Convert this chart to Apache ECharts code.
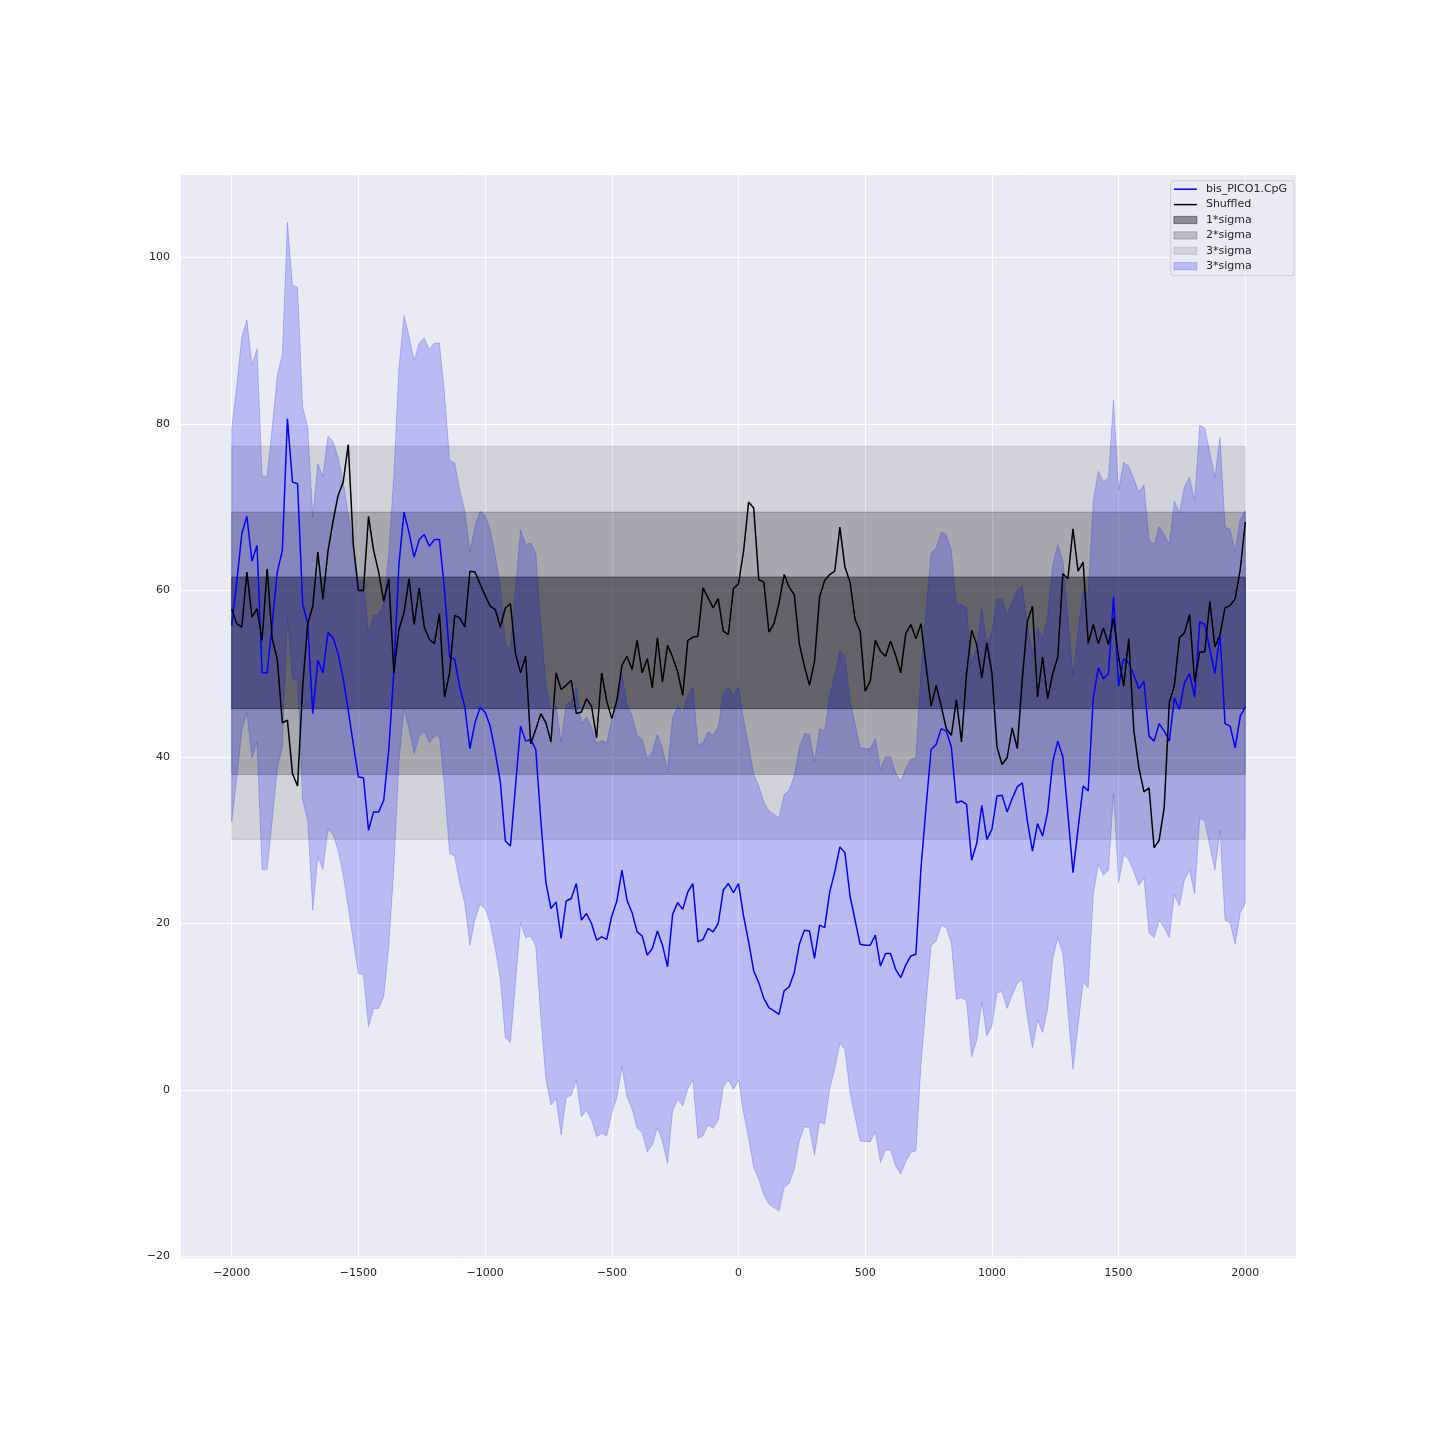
<!DOCTYPE html>
<html>
<head>
<meta charset="utf-8">
<script src="https://cdn.jsdelivr.net/npm/echarts@6/dist/echarts.min.js"></script>
<style>html,body{margin:0;padding:0;background:#fff}#c{width:1440px;height:1440px}</style>
</head>
<body>
<div id="c"></div>
<script>
// ---- data ----
const positions = Array.from({length: 201}, (_, i) => -2000 + 20 * i);
const bluePico = [
55.8,61.0,66.8,68.9,63.5,65.4,50.1,50.1,56.0,62.2,
64.8,80.6,73.0,72.8,58.4,56.0,45.2,51.6,50.1,54.9,
54.3,52.4,49.4,45.6,41.5,37.6,37.5,31.2,33.4,33.4,
34.8,40.9,50.3,63.1,69.4,66.9,64.0,66.1,66.7,65.3,
66.1,66.1,60.0,52.0,51.7,48.4,46.0,41.0,44.1,45.9,
45.4,43.7,40.6,37.0,29.9,29.3,36.5,43.7,41.9,42.1,
40.9,32.3,24.9,21.8,22.6,18.2,22.7,23.0,24.8,20.4,
21.2,20.0,18.0,18.4,18.1,20.9,22.7,26.4,22.8,21.3,
19.0,18.5,16.2,17.0,19.1,17.4,14.8,21.1,22.5,21.7,
23.8,24.8,17.8,18.1,19.4,19.0,20.0,24.0,24.8,23.7,
24.8,20.9,17.8,14.3,12.9,11.0,9.9,9.5,9.1,11.9,
12.4,14.1,17.5,19.2,19.1,15.8,19.8,19.5,23.8,26.2,
29.2,28.5,23.3,20.4,17.5,17.4,17.4,18.6,14.9,16.4,
16.4,14.5,13.5,15.0,16.1,16.3,26.6,33.9,40.9,41.5,
43.4,43.1,41.2,34.5,34.7,34.3,27.6,29.6,34.2,30.1,
31.3,35.3,35.4,33.4,35.0,36.4,36.9,32.3,28.7,32.0,
30.5,33.4,39.4,41.9,40.0,33.1,26.1,31.4,36.5,35.9,
47.1,50.7,49.4,50.0,59.2,48.5,51.8,51.3,49.8,48.2,
49.1,42.5,41.9,44.0,43.1,41.9,47.1,45.7,48.9,50.0,
47.2,56.2,55.9,52.9,50.0,54.8,44.0,43.7,41.1,44.9,
46.0
];
const shuffled = [
57.8,56.0,55.6,62.2,56.8,57.8,54.0,62.6,54.2,51.7,
44.1,44.4,38.0,36.5,48.4,56.0,58.1,64.6,58.9,64.7,
68.3,71.4,73.0,77.5,65.5,60.0,60.0,68.9,64.8,62.2,
58.7,61.4,50.1,55.3,57.3,61.4,55.9,60.3,55.6,54.1,
53.6,57.2,47.2,50.1,57.0,56.7,55.6,62.3,62.2,60.8,
59.4,58.1,57.7,55.6,57.9,58.4,52.4,50.1,52.1,41.6,
43.3,45.2,44.1,41.8,50.1,48.1,48.6,49.2,45.2,45.4,
47.0,46.1,42.3,50.1,46.7,44.6,46.8,51.0,52.1,50.5,
54.0,50.1,51.8,48.3,54.3,49.0,53.4,52.0,50.2,47.4,
54.0,54.4,54.5,60.3,59.1,57.9,59.0,55.1,54.7,60.2,
60.8,64.7,70.6,69.9,61.3,61.0,55.0,56.0,58.5,61.9,
60.4,59.5,53.6,50.9,48.6,51.5,59.2,61.2,61.9,62.3,
67.6,62.8,61.0,56.5,55.1,47.9,49.1,54.0,52.7,52.1,
53.9,52.2,50.1,54.8,55.9,54.2,56.0,51.0,46.1,48.6,
46.1,43.4,42.6,46.9,41.8,50.1,55.2,53.5,49.5,53.7,
50.1,41.2,39.1,39.9,43.5,41.0,49.4,56.3,58.1,47.2,
52.0,47.0,50.0,52.0,62.0,61.4,67.4,62.3,63.4,53.6,
55.9,53.6,55.5,53.5,56.7,52.0,48.5,54.2,43.2,38.7,
35.8,36.3,29.1,30.0,33.9,46.5,48.6,54.3,54.9,57.1,
49.0,52.6,52.6,58.7,53.2,54.7,57.9,58.2,59.0,62.5,
68.2
];
const blueBandHalf = 23.6;               // half width of the blue 3*sigma band
const sigmaNames = ['1*sigma', '2*sigma', '3*sigma'];
const sigmaLow   = [45.8, 37.9, 30.1];
const sigmaHigh  = [61.6, 69.4, 77.3];
const sigmaFrom = -2000, sigmaTo = 2000;
const xTickValues = [-2000, -1500, -1000, -500, 0, 500, 1000, 1500, 2000];
const xTickLabels = ['\u22122000', '\u22121500', '\u22121000', '\u2212500', '0', '500', '1000', '1500', '2000'];
const yTickValues = [-20, 0, 20, 40, 60, 80, 100];
const yTickLabels = ['\u221220', '0', '20', '40', '60', '80', '100'];

// ---- style ----
const FONT = 'DejaVu Sans';
const TXT = '#262626';
const sigmaColors = ['rgba(0,0,0,0.4)', 'rgba(0,0,0,0.2)', 'rgba(0,0,0,0.1)'];
const blueFill = 'rgba(0,0,255,0.2)';
const lineIcon = 'path://M0,0 L23,0 L23,1.5 L0,1.5 Z';

const pair = ys => positions.map((x, i) => [x, ys[i]]);

const series = [];
series.push({
  type: 'line', data: [], z: 0, silent: true,
  markLine: {
    silent: true, z: 0, zlevel: 0, symbol: ['none', 'none'], label: {show: false},
    lineStyle: {color: '#ffffff', width: 1, type: 'solid', opacity: 1},
    emphasis: {disabled: true},
    data: xTickValues.map(v => ({xAxis: v}))
  }
});
sigmaNames.forEach((n, k) => {
  series.push({
    name: n, type: 'line', data: [], z: 1, color: sigmaColors[k],
    markArea: {
      silent: true, z: 1,
      itemStyle: {color: sigmaColors[k], borderColor: sigmaColors[k], borderWidth: 1},
      emphasis: {disabled: true},
      data: [[{xAxis: sigmaFrom, yAxis: sigmaLow[k]}, {xAxis: sigmaTo, yAxis: sigmaHigh[k]}]]
    }
  });
});
series.push({
  name: '3*sigma ', type: 'custom', z: 1, silent: true, color: blueFill,
  data: pair(bluePico),
  renderItem: function (params, api) {
    if (params.dataIndex !== 0) return null;
    const up = positions.map((x, i) => api.coord([x, bluePico[i] + blueBandHalf]));
    const lo = positions.map((x, i) => api.coord([x, bluePico[i] - blueBandHalf])).reverse();
    return {
      type: 'polygon',
      shape: {points: up.concat(lo)},
      style: {fill: blueFill, stroke: blueFill, lineWidth: 1}
    };
  }
});
series.push({
  name: 'bis_PICO1.CpG', type: 'line', z: 3, data: pair(bluePico), symbol: 'none',
  color: '#0000ff', lineStyle: {width: 1.5, color: '#0000ff'}
});
series.push({
  name: 'Shuffled', type: 'line', z: 3, data: pair(shuffled), symbol: 'none',
  color: '#000000', lineStyle: {width: 1.5, color: '#000000'}
});

const chart = echarts.init(document.getElementById('c'), null, {renderer: 'canvas', width: 1440, height: 1440});
chart.setOption({
  animation: false,
  backgroundColor: '#ffffff',
  graphic: [{
    type: 'rect', silent: true, z: -10,
    shape: {x: 181, y: 174, width: 1115, height: 1084},
    style: {fill: '#EAEAF2'}
  }],
  grid: {left: 181, top: 174, width: 1115, height: 1082.6, show: false},
  xAxis: {
    type: 'value', min: -2200, max: 2200, interval: 100,
    axisLine: {show: false}, axisTick: {show: false}, splitLine: {show: false},
    axisLabel: {
      margin: 11, fontFamily: FONT, fontSize: 11, color: TXT,
      formatter: v => { const i = xTickValues.indexOf(v); return i >= 0 ? xTickLabels[i] : ''; }
    }
  },
  yAxis: {
    type: 'value', min: -20, max: 110, interval: 20,
    axisLine: {show: false}, axisTick: {show: false},
    splitLine: {show: true, lineStyle: {color: '#ffffff', width: 1}},
    axisLabel: {
      margin: 11, fontFamily: FONT, fontSize: 11, color: TXT, showMaxLabel: false,
      formatter: v => { const i = yTickValues.indexOf(v); return i >= 0 ? yTickLabels[i] : ''; }
    }
  },
  legend: {
    orient: 'vertical', left: 1170.7, top: 180.7, z: 10,
    padding: [2, 7, 3, 2.7],
    backgroundColor: 'rgba(234,234,242,0.8)', borderColor: '#cccccc', borderWidth: 1, borderRadius: 3,
    itemWidth: 23, itemHeight: 7.3, itemGap: 2.4,
    selectedMode: false,
    textStyle: {fontFamily: FONT, fontSize: 11, color: TXT, lineHeight: 13, padding: [0, 0, 0, 4]},
    data: [
      {name: 'bis_PICO1.CpG', icon: lineIcon, itemStyle: {color: '#0000ff', borderWidth: 0}},
      {name: 'Shuffled', icon: lineIcon, itemStyle: {color: '#000000', borderWidth: 0}},
      {name: '1*sigma', icon: 'rect', itemStyle: {color: sigmaColors[0], borderColor: sigmaColors[0], borderWidth: 1}},
      {name: '2*sigma', icon: 'rect', itemStyle: {color: sigmaColors[1], borderColor: sigmaColors[1], borderWidth: 1}},
      {name: '3*sigma', icon: 'rect', itemStyle: {color: sigmaColors[2], borderColor: sigmaColors[2], borderWidth: 1}},
      {name: '3*sigma ', icon: 'rect', itemStyle: {color: blueFill, borderColor: blueFill, borderWidth: 1}}
    ]
  },
  series: series
});
</script>
</body>
</html>
